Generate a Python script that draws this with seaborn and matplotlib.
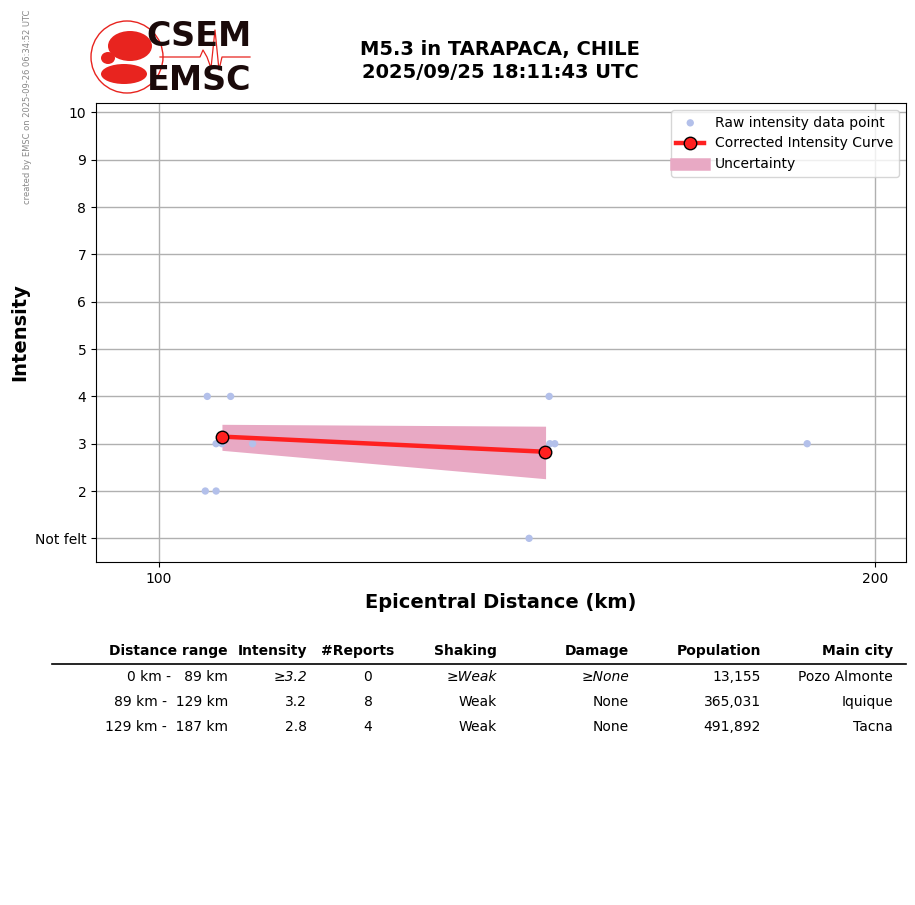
import matplotlib
matplotlib.use('Agg')
import matplotlib.pyplot as plt
import matplotlib.ticker as mticker
from matplotlib.patches import Circle, Ellipse
from matplotlib.lines import Line2D
import numpy as np
import pandas as pd
import seaborn as sns

# raw reports
raw_dist = [104.6, 104.8, 105.7, 105.7, 106.3, 107.2, 109.5, 143.1, 145.9, 146.0, 146.7, 187.3]
raw_int = [2, 4, 2, 3, 3, 4, 3, 1, 4, 3, 3, 3]

# corrected curve and uncertainty band
curve_dist = [106.3, 145.3]
curve_int = [3.15, 2.83]
band_dist = [106.3, 145.4]
band_low = [2.86, 2.26]
band_high = [3.41, 3.37]

ytick_vals = [1, 2, 3, 4, 5, 6, 7, 8, 9, 10]
ytick_labels = ['Not felt', '2', '3', '4', '5', '6', '7', '8', '9', '10']
xtick_vals = [100, 200]

title = 'M5.3 in TARAPACA, CHILE\n2025/09/25 18:11:43 UTC'
stamp = 'created by EMSC on 2025-09-26 06:34:52 UTC'

# summary table
col_names = ['Distance range', 'Intensity', '#Reports', 'Shaking', 'Damage', 'Population', 'Main city']
col_dist = ['0 km -   89 km', '89 km -  129 km', '129 km -  187 km']
col_intensity = ['≥3.2', '3.2', '2.8']
col_reports = ['0', '8', '4']
col_shaking = ['≥Weak', 'Weak', 'Weak']
col_damage = ['≥None', 'None', 'None']
col_pop = ['13,155', '365,031', '491,892']
col_city = ['Pozo Almonte', 'Iquique', 'Tacna']

raw_df = pd.DataFrame({'dist': raw_dist, 'intensity': raw_int})
curve_df = pd.DataFrame({'dist': curve_dist, 'intensity': curve_int})

band_color = '#e8a9c4'

fig = plt.figure(figsize=(9.15, 9.05), dpi=100)
ax = fig.add_axes([96/915, 1-562/905, 810/915, 459/905])

sns.scatterplot(data=raw_df, x='dist', y='intensity', color='#b3c0ea', s=28,
                edgecolor='none', label='Raw intensity data point', ax=ax, zorder=3)
sns.lineplot(data=curve_df, x='dist', y='intensity', color='#ff2020', lw=3.2,
             marker='o', markersize=9, markerfacecolor='#ff2020', markeredgecolor='black',
             markeredgewidth=1, label='Corrected Intensity Curve', ax=ax, zorder=5)
ax.fill_between(band_dist, band_low, band_high, color=band_color, lw=0, zorder=2)

ax.set_xscale('log')
ax.set_xlim(94.1, 206.1)
ax.set_ylim(0.5, 10.2)
ax.xaxis.set_major_locator(mticker.FixedLocator(xtick_vals))
ax.xaxis.set_major_formatter(mticker.FixedFormatter([str(v) for v in xtick_vals]))
ax.xaxis.set_minor_locator(mticker.NullLocator())
ax.set_yticks(ytick_vals)
ax.set_yticklabels(ytick_labels)
ax.tick_params(labelsize=10)
ax.grid(True, color='#b0b0b0', lw=1, zorder=0)
ax.set_axisbelow(True)
for sp in ax.spines.values():
    sp.set_color('black')
ax.set_xlabel('Epicentral Distance (km)', fontsize=14, fontweight='bold', labelpad=5)
ax.set_ylabel('Intensity', fontsize=14, fontweight='bold', labelpad=4)

h, l = ax.get_legend_handles_labels()
order = [l.index('Raw intensity data point'), l.index('Corrected Intensity Curve')]
handles = [h[i] for i in order] + [Line2D([], [], color=band_color, lw=9, solid_capstyle='projecting')]
labels = [l[i] for i in order] + ['Uncertainty']
ax.legend(handles, labels, loc='upper right', fontsize=10)

fig.text(500/915, 1-61/905, title, ha='center', va='center', fontsize=14, fontweight='bold')
fig.text(28/915, 1-107/905, stamp, rotation=90, ha='center', va='center', fontsize=6, color='#888888')

# overlay in pixel coordinates for logo and table
ov = fig.add_axes([0, 0, 1, 1], zorder=-1)
ov.set_xlim(0, 915)
ov.set_ylim(905, 0)
ov.axis('off')

# logo
ov.add_patch(Circle((127, 57), 36, fill=False, ec='#e8241f', lw=1))
ov.add_patch(Ellipse((130, 46), 44, 30, color='#e8241f', lw=0))
ov.add_patch(Ellipse((124, 74), 46, 20, color='#e8241f', lw=0))
ov.add_patch(Ellipse((108, 58), 14, 12, color='#e8241f', lw=0))
ov.plot([160, 200, 203, 207, 211, 215, 219, 222, 250],
        [57, 57, 50, 57, 68, 30, 70, 57, 57], color='#e8241f', lw=0.9)
ov.text(199, 37, 'CSEM', ha='center', va='center', fontsize=24, fontweight='heavy', color='#1a0a0a')
ov.text(199, 80, 'EMSC', ha='center', va='center', fontsize=24, fontweight='heavy', color='#1a0a0a')

# table
right_x = [228, 307, 368, 497, 629, 761, 893]
head_x = [228, 307, 394, 497, 629, 761, 893]
for name, x in zip(col_names, head_x):
    ov.text(x, 651, name, ha='right', va='center', fontsize=10, fontweight='bold')
ov.plot([52, 906], [664, 664], color='black', lw=1.2)
cols = [col_dist, col_intensity, col_reports, col_shaking, col_damage, col_pop, col_city]
row_y = [677, 702, 727]
for ci, (vals, x) in enumerate(zip(cols, right_x)):
    for ri, (v, y) in enumerate(zip(vals, row_y)):
        style = 'italic' if v.startswith('≥') else 'normal'
        ha = 'center' if ci == 2 else 'right'
        ov.text(x, y, v, ha=ha, va='center', fontsize=10, style=style)

fig.savefig('out.png', dpi=100)
